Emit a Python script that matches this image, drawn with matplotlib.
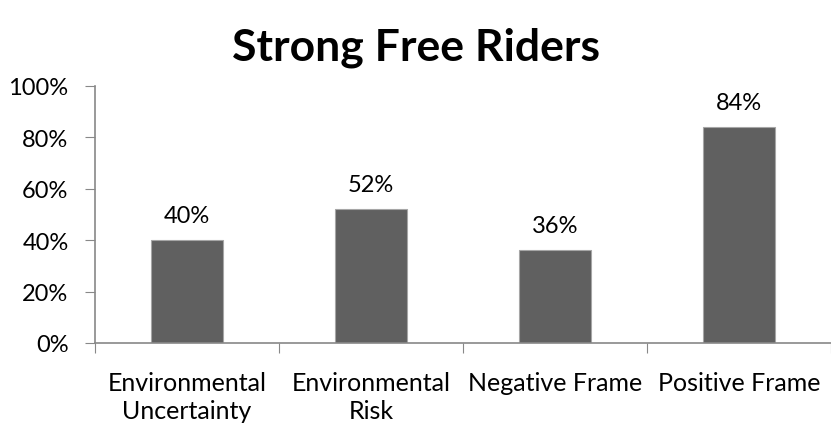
import matplotlib.pyplot as plt
from matplotlib.ticker import PercentFormatter

categories = ["Environmental\nUncertainty", "Environmental\nRisk", "Negative Frame", "Positive Frame"]
values = [40, 52, 36, 84]
yticks = [0, 20, 40, 60, 80, 100]

plt.rcParams['font.family'] = ['Lato', 'DejaVu Sans']

fig = plt.figure(figsize=(8.31, 4.31), dpi=100)
ax = fig.add_axes([95 / 831, 1 - 344 / 431, (831 - 95) / 831, (344 - 87) / 431])

x = range(len(categories))
bars = ax.bar(x, values, width=0.395, color='#606060', edgecolor='#a6a6a6', linewidth=0.8)
for b, v in zip(bars, values):
    ax.text(b.get_x() + b.get_width() / 2, v + 5.5, f"{v}%", ha='center', va='bottom', fontsize=17)

ax.set_xlim(-0.5, 3.48)
ax.set_ylim(0, 100)
ax.set_yticks(yticks)
ax.yaxis.set_major_formatter(PercentFormatter(decimals=0))
ax.set_xticks([i + 0.5 for i in range(-1, 4)], minor=False)
ax.set_xticklabels([])
ax.set_xticks(list(x), minor=True)
ax.set_xticklabels(categories, minor=True, fontsize=18, linespacing=1.25)
ax.tick_params(axis='x', which='minor', length=0, pad=20)
ax.tick_params(axis='x', which='major', length=7, color='#888888')
ax.tick_params(axis='y', length=7, color='#888888', labelsize=17, pad=12)

for s in ['top', 'right']:
    ax.spines[s].set_visible(False)
for s in ['left', 'bottom']:
    ax.spines[s].set_color('#888888')
    ax.spines[s].set_linewidth(1.2)

fig.text(0.5, 1 - 48 / 431, "Strong Free Riders", ha='center', va='center', fontsize=32, fontweight='bold')

fig.savefig('out.png', dpi=100)
